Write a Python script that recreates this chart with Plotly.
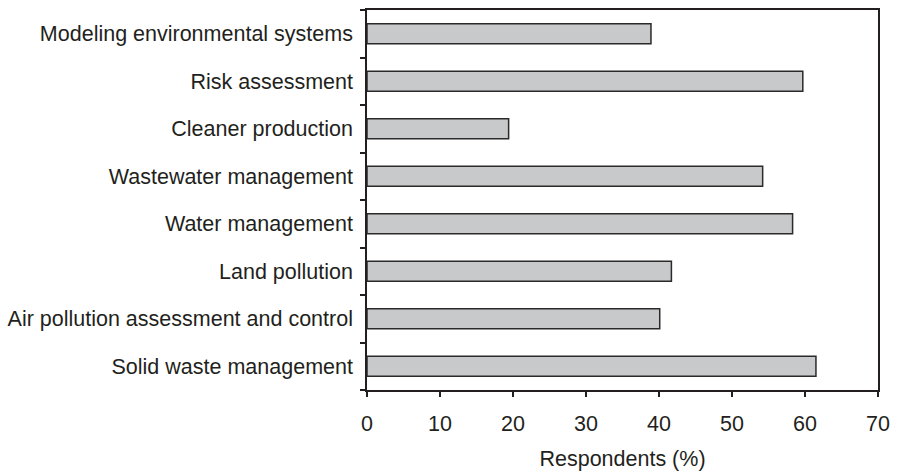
import plotly.graph_objects as go

categories = [
    "Solid waste management",
    "Air pollution assessment and control",
    "Land pollution",
    "Water management",
    "Wastewater management",
    "Cleaner production",
    "Risk assessment",
    "Modeling environmental systems",
]
respondents_pct = [61.5, 40.1, 41.7, 58.3, 54.2, 19.4, 59.7, 38.9]
x_ticks = [0, 10, 20, 30, 40, 50, 60, 70]

fig = go.Figure(
    go.Bar(
        x=respondents_pct,
        y=categories,
        orientation="h",
        width=0.42,
        marker=dict(color="#c8c9ca", line=dict(color="#2a2a2a", width=1.5)),
    )
)

font = dict(family="Liberation Sans, Arial, sans-serif", size=21.5, color="#231f20")

fig.update_layout(
    width=898,
    height=475,
    margin=dict(l=365, r=20, t=8, b=85),
    paper_bgcolor="white",
    plot_bgcolor="white",
    font=font,
    showlegend=False,
)
fig.update_xaxes(
    range=[0, 70],
    tickvals=x_ticks,
    ticktext=[str(v) for v in x_ticks],
    ticks="outside",
    ticklen=5,
    tickwidth=1.5,
    tickcolor="#231f20",
    tickfont=font,
    showline=True,
    linecolor="#231f20",
    linewidth=1.5,
    mirror=True,
    showgrid=False,
    zeroline=False,
    ticklabelstandoff=8,
    title=dict(text="Respondents (%)", standoff=16, font=font),
)
fig.update_yaxes(
    type="category",
    categoryorder="array",
    categoryarray=categories,
    range=[-0.5, 7.5],
    ticks="outside",
    tickson="boundaries",
    ticklen=5,
    tickwidth=1.5,
    tickcolor="#231f20",
    tickfont=font,
    showline=True,
    linecolor="#231f20",
    linewidth=1.5,
    mirror=True,
    showgrid=False,
    zeroline=False,
    ticklabelstandoff=8,
)

fig.write_html(
    "out.html",
    config={"displayModeBar": False},
    post_script="document.body.style.margin='0';",
)
